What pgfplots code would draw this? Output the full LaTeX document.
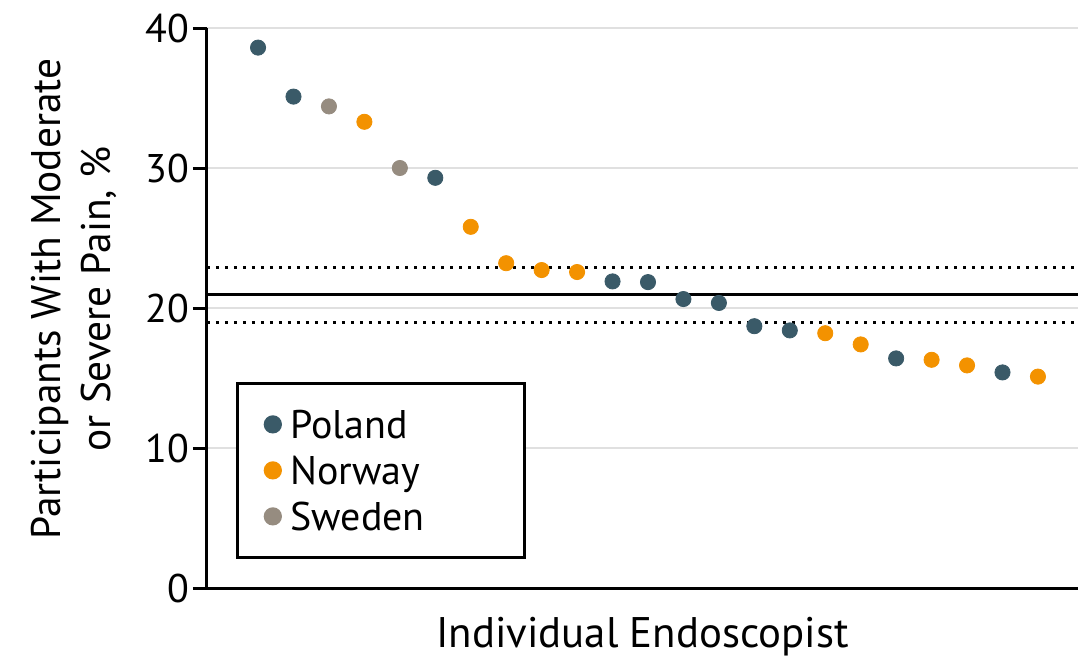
\documentclass[border=0pt]{standalone}
\usepackage{pgfplots}
\pgfplotsset{compat=1.18}
\usepackage{fontspec}
\setmainfont{PT Sans}

\definecolor{poland}{RGB}{58,90,104}
\definecolor{norway}{RGB}{243,146,0}
\definecolor{sweden}{RGB}{150,140,128}
\definecolor{gridgray}{RGB}{224,224,224}

\newcommand{\lblfont}{\fontsize{20}{25}\selectfont}

\begin{document}
\begin{tikzpicture}
\begin{axis}[
  name=ax,
  at={(0,0)}, anchor=south west,
  scale only axis,
  width=435.5pt, height=280pt,
  xmin=-0.44, xmax=24.13,
  ymin=0, ymax=40,
  xtick=\empty,
  ytick={0,10,20,30,40},
  axis x line*=bottom,
  axis y line*=left,
  axis line style={line width=1.5pt, black, -},
  tick style={line width=1.5pt, black},
  major tick length=7pt,
  ytick align=outside,
  ytick pos=left,
  ymajorgrids,
  grid style={gridgray, line width=1.2pt},
  tick label style={font=\lblfont},
  /pgf/number format/assume math mode=true,
  yticklabel style={inner xsep=1.5pt},
  xlabel={Individual Endoscopist},
  xlabel style={font=\fontsize{21.4}{25}\selectfont, at={(axis description cs:0.5,0)}, anchor=base, yshift=-29.5pt},
  ylabel={Participants With Moderate\\or Severe Pain, \%},
  ylabel style={font=\fontsize{20.7}{25}\selectfont, align=center, at={(axis description cs:-0.1527,0.516)}, anchor=center},
  legend style={
    at={(0.033,0.052)}, anchor=south west,
    draw=black, line width=1.5pt,
    inner xsep=14pt, inner ysep=9pt,
    font=\lblfont,
    row sep=0pt, column sep=3pt,
    nodes={text height=18.5pt, text depth=4.5pt, inner ysep=0pt},
  },
  legend cell align=left,
  legend image code/.code={\draw[#1] plot coordinates {(0pt,0pt)};},
  clip=false,
]
% overall mean and its confidence bounds
\addplot[forget plot, black, line width=1.5pt] coordinates {(-0.44,20.93) (24.13,20.93)};
\addplot[forget plot, black, line width=1.5pt, dash pattern=on 1.5pt off 3pt] coordinates {(-0.44,22.86) (24.13,22.86)};
\addplot[forget plot, black, line width=1.5pt, dash pattern=on 1.5pt off 3pt] coordinates {(-0.44,18.98) (24.13,18.98)};

\addplot[only marks, mark=*, mark size=3.8pt, color=poland, mark options={draw=none, fill=poland}] coordinates {
  (1,38.6) (2,35.1) (6,29.3) (11,21.9) (12,21.85) (13,20.64)
  (14,20.36) (15,18.7) (16,18.4) (19,16.4) (22,15.4)};
\addlegendentry{\makebox[101pt][l]{Poland}}
\addplot[only marks, mark=*, mark size=3.8pt, color=norway, mark options={draw=none, fill=norway}] coordinates {
  (4,33.3) (7,25.8) (8,23.2) (9,22.71) (10,22.57) (17,18.2)
  (18,17.4) (20,16.3) (21,15.9) (23,15.1)};
\addlegendentry{\makebox[101pt][l]{Norway}}
\addplot[only marks, mark=*, mark size=3.8pt, color=sweden, mark options={draw=none, fill=sweden}] coordinates {
  (3,34.4) (5,30.0)};
\addlegendentry{\makebox[101pt][l]{Sweden}}
\end{axis}
\path[use as bounding box] ([shift={(-103.5pt,-33pt)}]ax.south west) rectangle ([shift={(442.5pt,294pt)}]ax.south west);
\end{tikzpicture}
\end{document}
